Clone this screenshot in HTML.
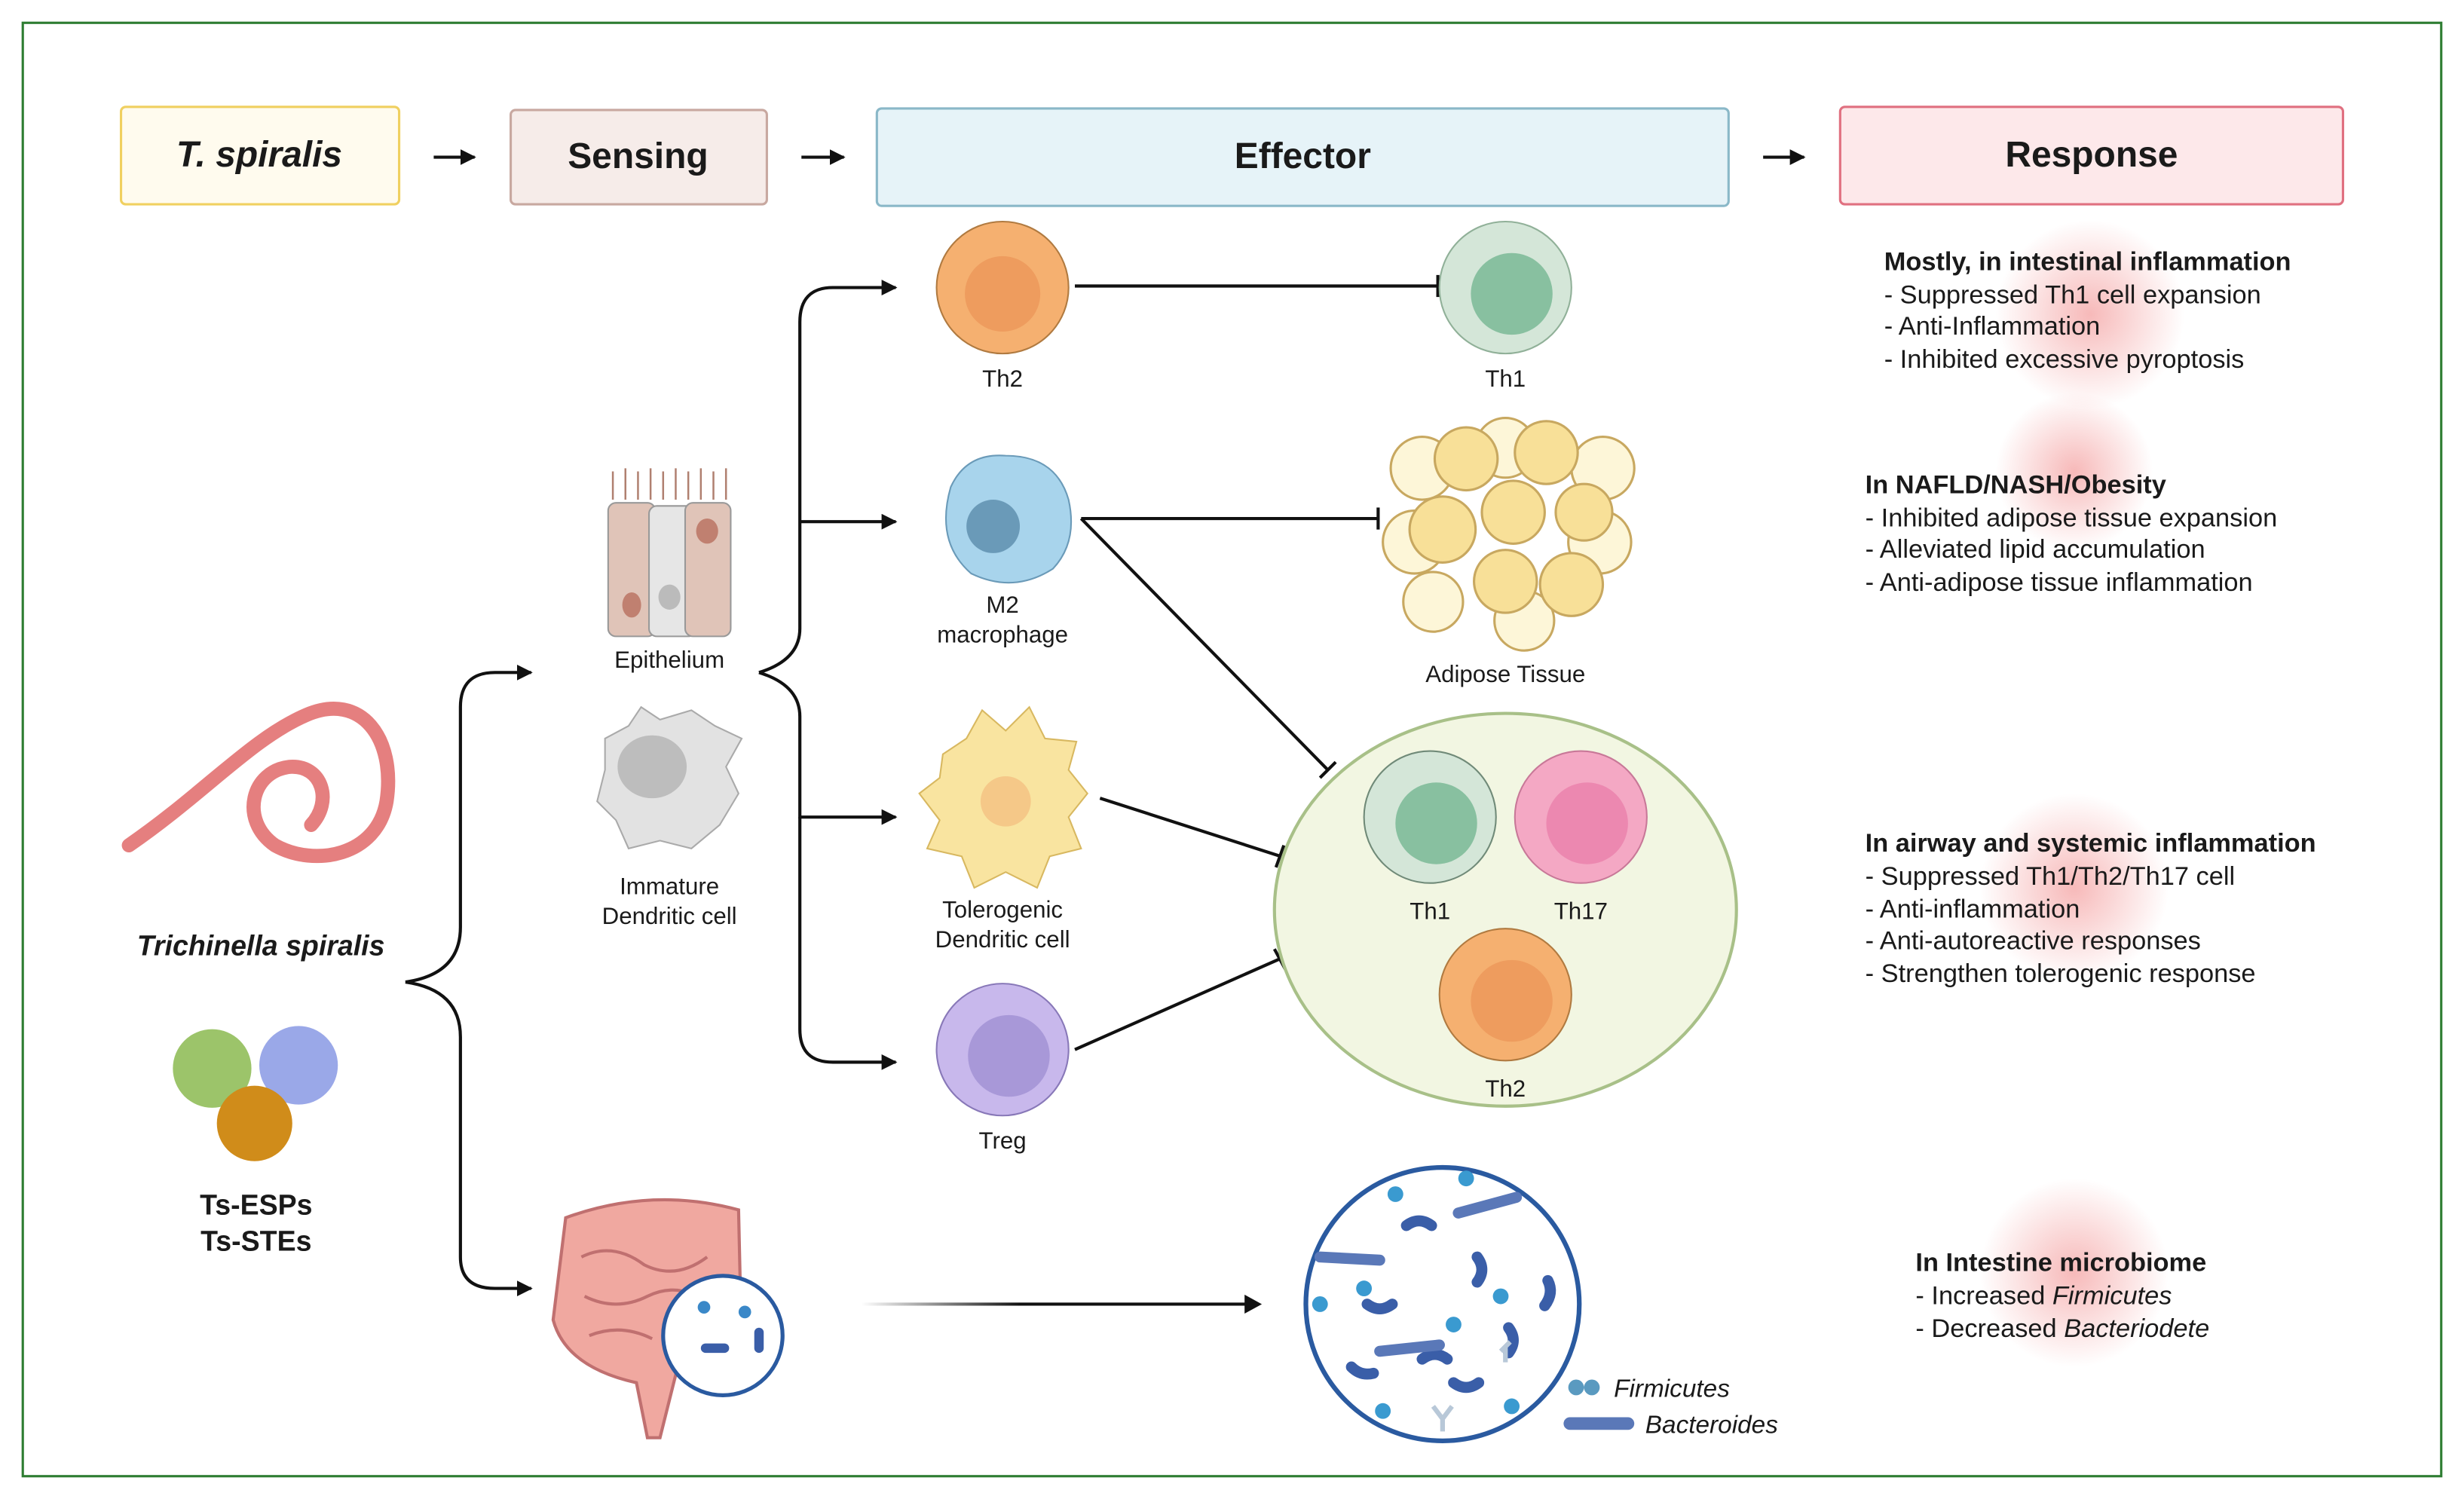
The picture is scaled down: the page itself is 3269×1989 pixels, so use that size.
<!DOCTYPE html>
<html><head><meta charset="utf-8"><style>
html,body{margin:0;padding:0;background:#fff}
svg{display:block}
text{font-family:"Liberation Sans",Arial,sans-serif;fill:#1a1a1a}
</style></head><body>
<svg width="3269" height="1989" viewBox="0 0 1568 954" xmlns="http://www.w3.org/2000/svg">
<defs>
<marker id="ar" viewBox="0 0 10 10" refX="9" refY="5" markerWidth="5" markerHeight="5" orient="auto"><path d="M0,0L10,5L0,10z" fill="#111"/></marker>
<radialGradient id="glow"><stop offset="0" stop-color="#f08080" stop-opacity=".55"/><stop offset="1" stop-color="#f08080" stop-opacity="0"/></radialGradient>
<linearGradient id="fade" gradientUnits="userSpaceOnUse" x1="548" y1="0" x2="800" y2="0"><stop offset="0" stop-color="#111" stop-opacity="0"/><stop offset=".4" stop-color="#111"/></linearGradient>
</defs>
<rect x="14.5" y="14.5" width="1539" height="925" fill="#fff" stroke="#2e7d32" stroke-width="1.5"/>

<rect x="77" y="68" width="177" height="62" rx="3" fill="#fffbee" stroke="#f0d060" stroke-width="1.5"/>
<text x="165" y="106" font-size="23" font-weight="bold" font-style="italic" text-anchor="middle">T. spiralis</text>
<rect x="325" y="70" width="163" height="60" rx="3" fill="#f6ece9" stroke="#c8a8a0" stroke-width="1.5"/>
<text x="406" y="107" font-size="23" font-weight="bold" text-anchor="middle">Sensing</text>
<rect x="558" y="69" width="542" height="62" rx="3" fill="#e6f3f8" stroke="#8ab8c8" stroke-width="1.5"/>
<text x="829" y="107" font-size="23" font-weight="bold" text-anchor="middle">Effector</text>
<rect x="1171" y="68" width="320" height="62" rx="3" fill="#fde8ea" stroke="#e07080" stroke-width="1.5"/>
<text x="1331" y="106" font-size="23" font-weight="bold" text-anchor="middle">Response</text>
<g stroke="#111" stroke-width="2" marker-end="url(#ar)">
<line x1="276" y1="100" x2="302" y2="100"/><line x1="510" y1="100" x2="537" y2="100"/><line x1="1122" y1="100" x2="1148" y2="100"/>
</g>

<circle cx="1330" cy="200" r="60" fill="url(#glow)"/>
<circle cx="1320" cy="300" r="50" fill="url(#glow)"/>
<circle cx="1320" cy="565" r="60" fill="url(#glow)"/>
<circle cx="1320" cy="810" r="60" fill="url(#glow)"/>

<g fill="none" stroke="#111" stroke-width="2">
<path d="M258,625 Q293,620 293,590 V450 Q293,428 315,428 H338" marker-end="url(#ar)"/>
<path d="M258,625 Q293,630 293,660 V800 Q293,820 315,820 H338" marker-end="url(#ar)"/>
<path d="M483,428 Q509,420 509,400 V205 Q509,183 530,183 H570" marker-end="url(#ar)"/>
<path d="M509,332 H570" marker-end="url(#ar)"/>
<path d="M483,428 Q509,436 509,456 V520 H570" marker-end="url(#ar)"/>
<path d="M509,520 V655 Q509,676 530,676 H570" marker-end="url(#ar)"/>
</g>
<line x1="548" y1="830" x2="795" y2="830" stroke="url(#fade)" stroke-width="2"/>
<path d="M792,824L803,830L792,836z" fill="#111"/>

<g stroke="#111" stroke-width="2">
<line x1="684" y1="182" x2="915" y2="182"/><line x1="915" y1="175" x2="915" y2="189"/>
<line x1="688" y1="330" x2="877" y2="330"/><line x1="877" y1="323" x2="877" y2="337"/>
<line x1="688" y1="330" x2="845" y2="490"/><line x1="840" y1="495" x2="850" y2="485"/>
<line x1="700" y1="508" x2="815" y2="545"/><line x1="812" y1="552" x2="817" y2="538"/>
<line x1="684" y1="668" x2="815" y2="610"/><line x1="811" y1="604" x2="818" y2="617"/>
</g>

<path d="M82,538 C130,505 160,470 195,455 C230,440 252,470 246,510 C240,545 200,552 175,538 C152,522 160,490 185,488 C205,487 212,510 198,525" fill="none" stroke="#e57f7f" stroke-width="9" stroke-linecap="round"/>
<text x="166" y="608" font-size="18" font-weight="bold" font-style="italic" text-anchor="middle">Trichinella spiralis</text>
<circle cx="135" cy="680" r="25" fill="#9cc46a"/><circle cx="190" cy="678" r="25" fill="#9aa8e8"/><circle cx="162" cy="715" r="24" fill="#d08c1a"/>
<text x="163" y="773" font-size="18" font-weight="bold" text-anchor="middle">Ts-ESPs</text>
<text x="163" y="796" font-size="18" font-weight="bold" text-anchor="middle">Ts-STEs</text>

<rect x="387" y="320" width="30" height="85" rx="5" fill="#e0c4b8" stroke="#999"/>
<rect x="413" y="322" width="30" height="83" rx="5" fill="#e6e6e6" stroke="#999"/>
<rect x="436" y="320" width="29" height="85" rx="5" fill="#e0c4b8" stroke="#999"/>
<ellipse cx="402" cy="385" rx="6" ry="8" fill="#c08070"/><ellipse cx="426" cy="380" rx="7" ry="8" fill="#bbb"/><ellipse cx="450" cy="338" rx="7" ry="8" fill="#c08070"/>
<path d="M390,318 V300 M398,318 V298 M406,318 V300 M414,318 V298 M422,318 V300 M430,318 V298 M438,318 V300 M446,318 V298 M454,318 V300 M462,318 V298" stroke="#b08070" stroke-width="1.2"/>
<text x="426" y="425" font-size="15" text-anchor="middle">Epithelium</text>
<path d="M385,470 L400,462 L408,450 L420,458 L440,452 L455,462 L472,470 L462,488 L470,505 L458,525 L440,540 L420,535 L400,540 L392,522 L380,510 L385,490 Z" fill="#e2e2e2" stroke="#aaa"/>
<ellipse cx="415" cy="488" rx="22" ry="20" fill="#bdbdbd"/>
<text x="426" y="569" font-size="15" text-anchor="middle">Immature</text>
<text x="426" y="588" font-size="15" text-anchor="middle">Dendritic cell</text>

<path d="M360,775 Q415,755 470,770 L472,860 Q450,880 430,875 L420,915 L412,915 L405,880 Q360,870 352,840 Z" fill="#f0a8a0" stroke="#c07070" stroke-width="2"/>
<path d="M370,800 q20,-10 40,5 q20,10 40,-5 M372,825 q20,10 40,0 q20,-10 40,5 M375,850 q20,-8 40,2" fill="none" stroke="#c07070" stroke-width="2"/>
<circle cx="460" cy="850" r="38" fill="#fff" stroke="#2a5aa0" stroke-width="2.5"/>
<g fill="#3a88c8"><circle cx="448" cy="832" r="4"/><circle cx="474" cy="835" r="4"/><rect x="446" y="855" width="18" height="6" rx="3" fill="#3a5ea8"/><rect x="480" y="845" width="6" height="16" rx="3" fill="#3a5ea8"/></g>

<circle cx="638" cy="183" r="42" fill="#f5b070" stroke="#b07a40"/><circle cx="638" cy="187" r="24" fill="#ee9c5e"/>
<text x="638" y="246" font-size="15" text-anchor="middle">Th2</text>
<circle cx="958" cy="183" r="42" fill="#d4e6d8" stroke="#90b098"/><circle cx="962" cy="187" r="26" fill="#88c0a0"/>
<text x="958" y="246" font-size="15" text-anchor="middle">Th1</text>
<path d="M605,310 Q615,288 640,290 Q672,290 680,318 Q686,345 670,362 Q645,378 618,365 Q595,345 605,310Z" fill="#a8d4ec" stroke="#6a9ab8"/>
<circle cx="632" cy="335" r="17" fill="#6a9ab8"/>
<text x="638" y="390" font-size="15" text-anchor="middle">M2</text>
<text x="638" y="409" font-size="15" text-anchor="middle">macrophage</text>
<path d="M600,480 L615,470 L625,452 L640,465 L655,450 L665,470 L685,472 L680,490 L692,505 L680,520 L688,540 L668,545 L660,565 L640,555 L620,565 L612,545 L590,540 L598,522 L585,505 L598,495 Z" fill="#f9e4a0" stroke="#d8b860"/>
<circle cx="640" cy="510" r="16" fill="#f5c888"/>
<text x="638" y="584" font-size="15" text-anchor="middle">Tolerogenic</text>
<text x="638" y="603" font-size="15" text-anchor="middle">Dendritic cell</text>
<circle cx="638" cy="668" r="42" fill="#c8b8ec" stroke="#8878b8"/><circle cx="642" cy="672" r="26" fill="#a898d8"/>
<text x="638" y="731" font-size="15" text-anchor="middle">Treg</text>

<g stroke="#c8a860" stroke-width="1.5">
<circle cx="905" cy="298" r="20" fill="#fdf6d8"/><circle cx="1020" cy="298" r="20" fill="#fdf6d8"/><circle cx="900" cy="345" r="20" fill="#fdf6d8"/><circle cx="1018" cy="345" r="20" fill="#fdf6d8"/><circle cx="912" cy="383" r="19" fill="#fdf6d8"/><circle cx="970" cy="395" r="19" fill="#fdf6d8"/><circle cx="958" cy="285" r="19" fill="#fdf6d8"/>
<circle cx="933" cy="292" r="20" fill="#f8e098"/><circle cx="984" cy="288" r="20" fill="#f8e098"/><circle cx="963" cy="326" r="20" fill="#f8e098"/><circle cx="1008" cy="326" r="18" fill="#f8e098"/><circle cx="918" cy="337" r="21" fill="#f8e098"/><circle cx="958" cy="370" r="20" fill="#f8e098"/><circle cx="1000" cy="372" r="20" fill="#f8e098"/>
</g>
<text x="958" y="434" font-size="15" text-anchor="middle">Adipose Tissue</text>

<ellipse cx="958" cy="579" rx="147" ry="125" fill="#f2f6e2" stroke="#a8c088" stroke-width="2"/>
<circle cx="910" cy="520" r="42" fill="#d4e6d8" stroke="#708a78"/><circle cx="914" cy="524" r="26" fill="#88c0a0"/>
<text x="910" y="585" font-size="15" text-anchor="middle">Th1</text>
<circle cx="1006" cy="520" r="42" fill="#f4a8c4" stroke="#c87898"/><circle cx="1010" cy="524" r="26" fill="#ec88b0"/>
<text x="1006" y="585" font-size="15" text-anchor="middle">Th17</text>
<circle cx="958" cy="633" r="42" fill="#f5b070" stroke="#b07a40"/><circle cx="962" cy="637" r="26" fill="#ee9c5e"/>
<text x="958" y="698" font-size="15" text-anchor="middle">Th2</text>

<circle cx="918" cy="830" r="87" fill="#fff" stroke="#2a5aa0" stroke-width="3"/>
<g stroke="#3a5ea8" stroke-width="7" stroke-linecap="round" fill="none">
<path d="M895,780 q8,-6 16,0"/><path d="M940,800 q6,8 0,16"/><path d="M870,830 q8,6 16,0"/><path d="M905,865 q8,-6 16,0"/><path d="M960,845 q6,8 0,16"/><path d="M985,815 q4,8 -2,16"/><path d="M925,880 q8,6 16,0"/><path d="M860,870 q6,6 14,4"/>
</g>
<g stroke="#5a78b8" stroke-width="7" stroke-linecap="round"><line x1="840" y1="800" x2="878" y2="802"/><line x1="928" y1="772" x2="965" y2="762"/><line x1="878" y1="860" x2="916" y2="856"/></g>
<g fill="#3a9ad0"><circle cx="888" cy="760" r="5"/><circle cx="933" cy="750" r="5"/><circle cx="955" cy="825" r="5"/><circle cx="868" cy="820" r="5"/><circle cx="925" cy="843" r="5"/><circle cx="962" cy="895" r="5"/><circle cx="880" cy="898" r="5"/><circle cx="840" cy="830" r="5"/></g>
<g stroke="#b8c8d8" stroke-width="3" fill="none"><path d="M912,895 l6,8 l6,-8 M918,903 v8"/><path d="M955,860 l6,-6 M958,857 v10"/></g>
<circle cx="1003" cy="883" r="5" fill="#5a9ac0"/><circle cx="1013" cy="883" r="5" fill="#5a9ac0"/>
<text x="1027" y="889" font-size="16" font-style="italic">Firmicutes</text>
<rect x="995" y="902" width="45" height="8" rx="4" fill="#5a78b8"/>
<text x="1047" y="912" font-size="16" font-style="italic">Bacteroides</text>

<g font-size="16.5">
<text x="1199" y="172" font-weight="bold">Mostly, in intestinal inflammation</text>
<text x="1199" y="193">- Suppressed Th1 cell expansion</text>
<text x="1199" y="213">- Anti-Inflammation</text>
<text x="1199" y="234">- Inhibited excessive pyroptosis</text>
<text x="1187" y="314" font-weight="bold">In NAFLD/NASH/Obesity</text>
<text x="1187" y="335">- Inhibited adipose tissue expansion</text>
<text x="1187" y="355">- Alleviated lipid accumulation</text>
<text x="1187" y="376">- Anti-adipose tissue  inflammation</text>
<text x="1187" y="542" font-weight="bold">In airway and systemic inflammation</text>
<text x="1187" y="563">- Suppressed Th1/Th2/Th17 cell</text>
<text x="1187" y="584">- Anti-inflammation</text>
<text x="1187" y="604">- Anti-autoreactive responses</text>
<text x="1187" y="625">- Strengthen tolerogenic response</text>
<text x="1219" y="809" font-weight="bold">In Intestine microbiome</text>
<text x="1219" y="830">- Increased <tspan font-style="italic">Firmicutes</tspan></text>
<text x="1219" y="851">- Decreased <tspan font-style="italic">Bacteriodete</tspan></text>
</g>
</svg>
</body></html>
